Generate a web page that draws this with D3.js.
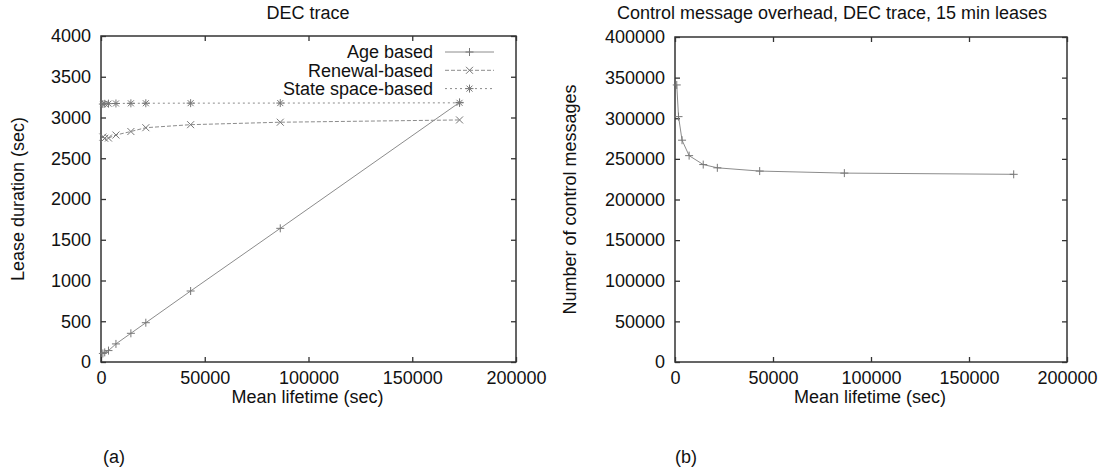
<!DOCTYPE html>
<meta charset="utf-8">
<style>
  body { margin: 0; background: #fff; }
  svg text { font-family: "Liberation Sans", Arial, Helvetica, sans-serif; fill: #111; }
</style>
<body>
<script src="https://cdn.jsdelivr.net/npm/d3@7"></script>
<script>

// data
var lifetime = [900, 1800, 3600, 7200, 14400, 21600, 43200, 86400, 172800];
var ageBased = [105, 118, 140, 222, 352, 482, 871, 1640, 3185];
var renewalBased = [2760, 2745, 2748, 2785, 2828, 2875, 2912, 2942, 2970];
var stateBased = [3165, 3168, 3170, 3172, 3174, 3175, 3176, 3177, 3180];
var ctrlMessages = [341000, 302000, 273000, 254000, 243000, 239000, 235000, 232500, 231000];

var xTicks = [0, 50000, 100000, 150000, 200000];
var leaseTicks = [0, 500, 1000, 1500, 2000, 2500, 3000, 3500, 4000];
var msgTicks = [0, 50000, 100000, 150000, 200000, 250000, 300000, 350000, 400000];

var W = 1101, H = 470;
var fs = 18;
var lineCol = "#8c8c8c", boxCol = "#333";

var svg = d3.select("body").append("svg")
    .attr("width", W)
    .attr("height", H);

// marker shapes (gnuplot style)
var marks = {
  plus: "M-4,0H4M0,-4V4",
  cross: "M-3.5,-3.5L3.5,3.5M-3.5,3.5L3.5,-3.5",
  star: "M-4,0H4M0,-4V4M-3,-3L3,3M-3,3L3,-3"
};

function panel(opt) {
  var g = svg.append("g");
  var x = d3.scaleLinear().domain([0, 200000]).range([opt.x0, opt.x1]);
  var y = d3.scaleLinear().domain(opt.yDomain).range([opt.y1, opt.y0]);

  // frame
  g.append("rect")
    .attr("x", opt.x0).attr("y", opt.y0)
    .attr("width", opt.x1 - opt.x0).attr("height", opt.y1 - opt.y0)
    .attr("fill", "none").attr("stroke", boxCol).attr("stroke-width", 1.5);

  g.append("g")
    .attr("transform", "translate(0," + opt.y1 + ")")
    .call(d3.axisBottom(x).tickValues(xTicks).tickSize(-5).tickSizeOuter(0).tickPadding(9).tickFormat(d3.format("d")));
  g.append("g")
    .attr("transform", "translate(" + opt.x0 + ",0)")
    .call(d3.axisLeft(y).tickValues(opt.yTicks).tickSize(-5).tickSizeOuter(0).tickPadding(10).tickFormat(d3.format("d")));
  g.append("g")
    .attr("transform", "translate(0," + opt.y0 + ")")
    .call(d3.axisTop(x).tickValues(xTicks).tickSize(-5).tickSizeOuter(0).tickFormat(""));
  g.append("g")
    .attr("transform", "translate(" + opt.x1 + ",0)")
    .call(d3.axisRight(y).tickValues(opt.yTicks).tickSize(-5).tickSizeOuter(0).tickFormat(""));

  g.selectAll(".domain").remove();
  g.selectAll(".tick line").attr("stroke", boxCol).attr("stroke-width", 1.3);
  g.selectAll(".tick text").style("font-size", fs + "px").attr("fill", "#111");

  // titles
  g.append("text")
    .attr("x", opt.titleX).attr("y", 19)
    .attr("text-anchor", "middle").style("font-size", fs + "px")
    .text(opt.title);
  g.append("text")
    .attr("x", (opt.x0 + opt.x1) / 2 - 1).attr("y", 403)
    .attr("text-anchor", "middle").style("font-size", fs + "px")
    .text("Mean lifetime (sec)");
  g.append("text")
    .attr("transform", "translate(" + opt.yLabelX + "," + (opt.y0 + opt.y1) / 2 + ") rotate(-90)")
    .attr("text-anchor", "middle").style("font-size", fs + "px")
    .text(opt.yLabel);
  g.append("text")
    .attr("x", opt.subX).attr("y", 463)
    .attr("text-anchor", "middle").style("font-size", fs + "px")
    .text(opt.sub);

  opt.series.forEach(function(s) {
    var pts = lifetime.map(function(d, i) { return [d, s.values[i]]; });
    var line = d3.line().x(function(d) { return x(d[0]); }).y(function(d) { return y(d[1]); });
    g.append("path")
      .attr("d", line(pts))
      .attr("fill", "none")
      .attr("stroke", lineCol)
      .attr("stroke-width", 1)
      .attr("stroke-dasharray", s.dash || null);
    g.selectAll(null).data(pts).enter().append("path")
      .attr("transform", function(d) { return "translate(" + x(d[0]) + "," + y(d[1]) + ")"; })
      .attr("d", marks[s.mark])
      .attr("fill", "none")
      .attr("stroke", "#777")
      .attr("stroke-width", 1);
  });

  if (opt.legend) {
    opt.series.forEach(function(s, i) {
      var ly = 52 + i * 18.3;
      g.append("text")
        .attr("x", 433).attr("y", ly)
        .attr("dy", "0.35em")
        .attr("text-anchor", "end").style("font-size", fs + "px")
        .text(s.name);
      g.append("line")
        .attr("x1", 445).attr("x2", 494).attr("y1", ly).attr("y2", ly)
        .attr("stroke", lineCol).attr("stroke-width", 1)
        .attr("stroke-dasharray", s.dash || null);
      g.append("path")
        .attr("transform", "translate(469.5," + ly + ")")
        .attr("d", marks[s.mark])
        .attr("fill", "none").attr("stroke", "#777");
    });
  }
}

panel({
  x0: 101, x1: 516, y0: 36, y1: 362,
  yDomain: [0, 4000], yTicks: leaseTicks,
  title: "DEC trace", titleX: 308,
  yLabel: "Lease duration (sec)", yLabelX: 24,
  sub: "(a)", subX: 114,
  legend: true,
  series: [
    {name: "Age based", values: ageBased, mark: "plus"},
    {name: "Renewal-based", values: renewalBased, mark: "cross", dash: "4,2"},
    {name: "State space-based", values: stateBased, mark: "star", dash: "2,3"}
  ]
});

panel({
  x0: 675, x1: 1067, y0: 37, y1: 362,
  yDomain: [0, 400000], yTicks: msgTicks,
  title: "Control message overhead, DEC trace, 15 min leases", titleX: 832,
  yLabel: "Number of control messages", yLabelX: 576,
  sub: "(b)", subX: 686,
  legend: false,
  series: [
    {name: "Messages", values: ctrlMessages, mark: "plus"}
  ]
});

</script>
</body>
